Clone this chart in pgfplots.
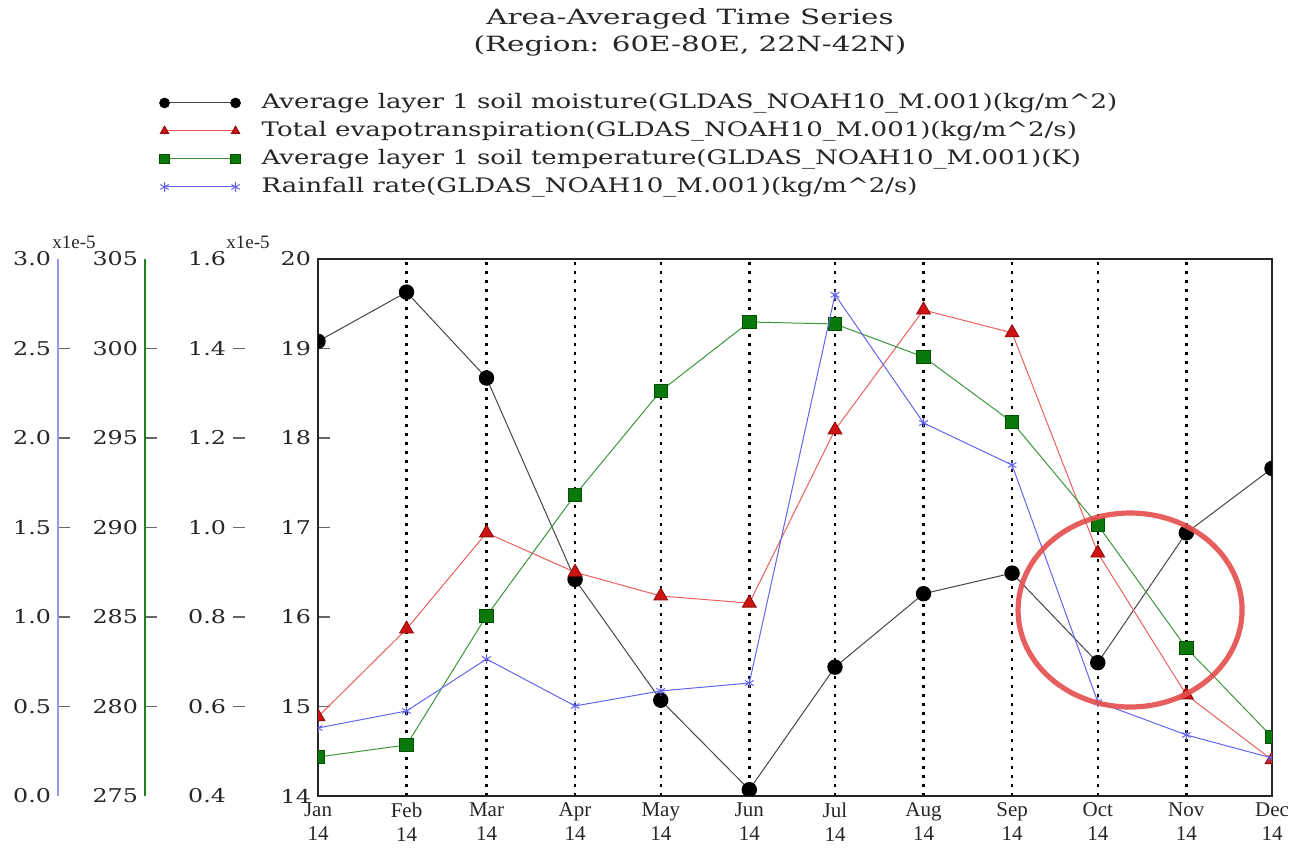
\documentclass[border=0pt]{standalone}
\usepackage{fontspec}
\setmainfont{DejaVu Serif}
\newfontfamily\titlefont{DejaVu Serif}[FakeStretch=1.4]
\newfontfamily\legfont{DejaVu Serif}[FakeStretch=1.3]
\newfontfamily\tickfont{DejaVu Serif}[FakeStretch=1.25]
\newfontfamily\xfont{Liberation Serif}
\usepackage{pgfplots}
\pgfplotsset{compat=1.18}

\definecolor{ser1line}{RGB}{70,70,70}
\definecolor{ser2line}{RGB}{235,95,95}
\definecolor{ser2fill}{RGB}{205,20,20}
\definecolor{ser2edge}{RGB}{140,10,10}
\definecolor{ser3line}{RGB}{60,150,60}
\definecolor{ser3fill}{RGB}{10,120,10}
\definecolor{ser3edge}{RGB}{0,80,0}
\definecolor{ser4line}{RGB}{100,100,235}
\definecolor{bluax}{RGB}{150,150,235}
\definecolor{grnax}{RGB}{30,130,30}
\definecolor{circ}{RGB}{228,80,80}

\pgfplotsset{
  base/.style={scale only axis, width=477pt, height=268.5pt, xmin=0, xmax=334,
    anchor=north west, at={(159pt,-129.5pt)}, clip marker paths=true},
  yaxdisp/.style={scale only axis, width=1pt, height=268.5pt, anchor=north west,
    xmin=0, xmax=1, hide x axis, axis y line*=left, tick align=inside,
    major tick length=6pt, y tick style={gray!80!black, line width=0.6pt},
    yticklabel style={font=\tickfont\fontsize{9.5}{10}\selectfont, text=black!85},
    extra y tick style={major tick length=0pt},
    /pgf/number format/assume math mode=true},
  sblack/.style={color=ser1line, line width=0.5pt, mark=*, mark size=3.6pt,
    mark options={fill=black, draw=black}},
  sred/.style={color=ser2line, line width=0.5pt, mark=triangle*, mark size=4pt,
    mark options={fill=ser2fill, draw=ser2edge, line width=0.4pt}},
  sgreen/.style={color=ser3line, line width=0.5pt, mark=square*, mark size=3.4pt,
    mark options={fill=ser3fill, draw=ser3edge, line width=0.4pt}},
  sblue/.style={color=ser4line, line width=0.5pt, mark=asterisk, mark size=2.5pt,
    mark options={draw=ser4line, line width=0.5pt}},
}

\begin{document}
\begin{tikzpicture}
\useasboundingbox (0,0) rectangle (655pt,-424.5pt);

% title
\node[align=center, font=\titlefont\fontsize{10.5}{13.5}\selectfont, text=black!85] at (345pt,-16pt)
  {Area-Averaged Time Series\\(Region: 60E-80E, 22N-42N)};

% main axis: soil moisture
\begin{axis}[base,
  ymin=14, ymax=20, ytick={14,15,16,17,18,19,20},
  xtick={0,31,59,90,120,151,181,212,243,273,304,334},
  xticklabels={{Jan\\14},{Feb\\14},{Mar\\14},{Apr\\14},{May\\14},{Jun\\14},{Jul\\14},{Aug\\14},{Sep\\14},{Oct\\14},{Nov\\14},{Dec\\14}},
  xticklabel style={align=center, font=\xfont\fontsize{10.5}{12}\selectfont, text=black!85},
  yticklabel style={font=\tickfont\fontsize{9.5}{10}\selectfont, text=black!85},
  /pgf/number format/assume math mode=true,
  xmajorgrids, grid style={black, line width=1.2pt, dash pattern=on 1.5pt off 3pt},
  ytick pos=left, xtick pos=bottom, tick align=inside,
  major tick length=6pt, y tick style={gray!80!black, line width=0.6pt},
  x tick style={draw=none},
  axis line style={black!85, line width=1pt},
  legend cell align=left,
  legend style={at={(-0.1663,1.309)}, anchor=north west, draw=none, fill=none,
    inner sep=0pt, font=\legfont\fontsize{10}{12}\selectfont, text=black!85,
    row sep=4.5pt, column sep=10.7pt,
    nodes={inner sep=0pt, text height=7.5pt, text depth=2pt}},
  legend image code/.code={\draw[#1, mark size=2.4pt] plot coordinates {(0pt,0pt) (35.5pt,0pt)};},
]
\addplot[sblack] coordinates {
 (0,19.08) (31,19.63) (59,18.67) (90,16.42) (120,15.07) (151,14.07)
 (181,15.44) (212,16.26) (243,16.49) (273,15.49) (304,16.94) (334,17.66)};
\addlegendentry{Average layer 1 soil moisture(GLDAS\_NOAH10\_M.001)(kg/m\^{}2)}
\addlegendimage{sred}
\addlegendentry{Total evapotranspiration(GLDAS\_NOAH10\_M.001)(kg/m\^{}2/s)}
\addlegendimage{sgreen}
\addlegendentry{Average layer 1 soil temperature(GLDAS\_NOAH10\_M.001)(K)}
\addlegendimage{sblue}
\addlegendentry{Rainfall rate(GLDAS\_NOAH10\_M.001)(kg/m\^{}2/s)}
\end{axis}

% evapotranspiration
\begin{axis}[base, hide axis, ymin=0.4, ymax=1.6]
\addplot[sred] coordinates {
 (0,0.577) (31,0.773) (59,0.988) (90,0.900) (120,0.847) (151,0.831)
 (181,1.218) (212,1.486) (243,1.435) (273,0.943) (304,0.626) (334,0.481)};
\end{axis}

% soil temperature
\begin{axis}[base, hide axis, ymin=275, ymax=305]
\addplot[sgreen] coordinates {
 (0,277.18) (31,277.85) (59,285.06) (90,291.82) (120,297.63) (151,301.48)
 (181,301.37) (212,299.53) (243,295.89) (273,290.14) (304,283.27) (334,278.30)};
\end{axis}

% rainfall
\begin{axis}[base, hide axis, ymin=0, ymax=3]
\addplot[sblue] coordinates {
 (0,0.380) (31,0.475) (59,0.765) (90,0.503) (120,0.587) (151,0.631)
 (181,2.800) (212,2.084) (243,1.849) (273,0.525) (304,0.341) (334,0.212)};
\draw[circ, line width=2.6pt, opacity=0.92] (axis cs:284.3,1.039) ellipse [x radius=56pt, y radius=48.5pt];
\end{axis}

% displayed y axes
\begin{axis}[yaxdisp, at={(29pt,-129.5pt)}, ymin=0, ymax=3,
  y axis line style={bluax, line width=0.9pt},
  ytick={0.5,1.0,1.5,2.0,2.5}, yticklabels={0.5,1.0,1.5,2.0,2.5},
  extra y ticks={0,3}, extra y tick labels={0.0,3.0}]
\end{axis}
\begin{axis}[yaxdisp, at={(72.5pt,-129.5pt)}, ymin=275, ymax=305,
  y axis line style={grnax, line width=0.9pt},
  ytick={280,285,290,295,300}, yticklabels={280,285,290,295,300},
  extra y ticks={275,305}, extra y tick labels={275,305}]
\end{axis}
\begin{axis}[yaxdisp, at={(116.5pt,-129.5pt)}, ymin=0.4, ymax=1.6,
  y axis line style={draw=none},
  ytick={0.6,0.8,1.0,1.2,1.4}, yticklabels={0.6,0.8,1.0,1.2,1.4},
  extra y ticks={0.4,1.6}, extra y tick labels={0.4,1.6}]
\end{axis}

\node[font=\xfont\fontsize{9.5}{10}\selectfont, text=black!85] at (37pt,-121pt) {x1e-5};
\node[font=\xfont\fontsize{9.5}{10}\selectfont, text=black!85] at (124pt,-121pt) {x1e-5};
\end{tikzpicture}
\end{document}
